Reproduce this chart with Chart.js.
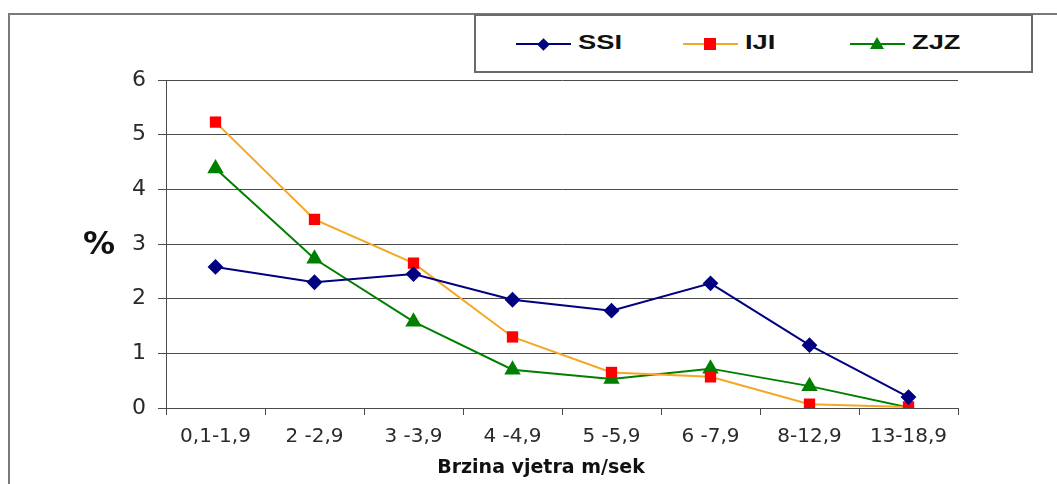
<!DOCTYPE html>
<html lang="en">
<head>
  <meta charset="UTF-8">
  <script src="https://cdn.jsdelivr.net/npm/chart.js"></script>
  <title>Brzina vjetra</title>
  <style>
    body { margin: 0; background: #fff; font-family: "Liberation Sans", Arial, sans-serif; }
    .okvir { position: absolute; left: 8px; top: 13px; width: 1100px; height: 500px;
      border-left: 2px solid #7a7a7a; border-top: 2px solid #7a7a7a; }
    #graf { position: absolute; left: 0; top: 0; }
    .legenda { position: absolute; left: 474px; top: 14px; width: 555px; height: 55px;
      border: 2px solid #6a6a6a; background: #fff; }
    .stavka { position: absolute; top: 0; height: 55px; }
    .stavka .linija { position: absolute; top: 27px; width: 55px; height: 2px; }
    .stavka .tekst { position: absolute; left: 62px; top: 14px; font: bold 21px "Liberation Sans", Arial, sans-serif;
      color: #111; transform: scaleX(1.3); transform-origin: left center; }
    .romb { position: absolute; left: 23px; top: 23.5px; width: 9px; height: 9px; background: #000080; transform: rotate(45deg); }
    .kvad { position: absolute; left: 21px; top: 22px; width: 12px; height: 12px; background: #ff0000; }
    .trok { position: absolute; left: 20px; top: 21px; width: 0; height: 0;
      border-left: 7px solid transparent; border-right: 7px solid transparent; border-bottom: 12px solid #008000; }
  </style>
</head>
<body>
  <div class="okvir"></div>
  <canvas id="graf" width="1057" height="484"></canvas>
  <div class="legenda">
    <div class="stavka" style="left:40px">
      <div class="linija" style="background:#000080"></div><div class="romb"></div><div class="tekst">SSI</div>
    </div>
    <div class="stavka" style="left:207px">
      <div class="linija" style="background:#f5a623"></div><div class="kvad"></div><div class="tekst">IJI</div>
    </div>
    <div class="stavka" style="left:374px">
      <div class="linija" style="background:#008000"></div><div class="trok"></div><div class="tekst">ZJZ</div>
    </div>
  </div>

<script>
const kategorije = ['0,1-1,9', '2 -2,9', '3 -3,9', '4 -4,9', '5 -5,9', '6 -7,9', '8-12,9', '13-18,9'];
const ssi = [2.58, 2.30, 2.45, 1.98, 1.78, 2.28, 1.15, 0.20];
const iji = [5.23, 3.45, 2.65, 1.30, 0.65, 0.57, 0.07, 0.02];
const zjz = [4.38, 2.73, 1.58, 0.70, 0.53, 0.72, 0.40, 0.01];
const yTicks = [0, 1, 2, 3, 4, 5, 6];

// "%" and the x title are drawn by hand so they sit where the original has them
const natpisi = {
  id: 'natpisi',
  afterDraw(chart) {
    const c = chart.ctx;
    const y = chart.scales.y;
    c.save();
    c.fillStyle = '#111';
    c.textAlign = 'center';
    c.textBaseline = 'middle';
    c.font = 'bold 32px "DejaVu Sans", sans-serif';
    c.fillText('%', chart.chartArea.left - 67, y.getPixelForValue(3) + 2);
    c.font = 'bold 19px "DejaVu Sans", sans-serif';
    c.fillText('Brzina vjetra m/sek', chart.chartArea.left + 375, 468);
    c.restore();
  }
};

const ctx = document.getElementById('graf');
new Chart(ctx, {
  type: 'line',
  data: {
    labels: kategorije,
    datasets: [
      { label: 'SSI', data: ssi, borderColor: '#000080', backgroundColor: '#000080',
        pointStyle: 'rectRot', pointRadius: 6.5, pointBorderColor: '#000080', borderWidth: 2 },
      { label: 'IJI', data: iji, borderColor: '#f5a623', backgroundColor: '#ff0000',
        pointStyle: 'rect', pointRadius: 8, pointBorderColor: '#ff0000', pointBorderWidth: 0, borderWidth: 2 },
      { label: 'ZJZ', data: zjz, borderColor: '#008000', backgroundColor: '#008000',
        pointStyle: 'triangle', pointRadius: 7.5, pointBorderColor: '#008000', borderWidth: 2 }
    ]
  },
  options: {
    responsive: false,
    animation: false,
    layout: { padding: { top: 80, right: 99, left: 0, bottom: 0 } },
    plugins: { legend: { display: false }, tooltip: { enabled: false } },
    scales: {
      x: {
        offset: true,
        grid: { offset: true, drawOnChartArea: false, drawTicks: true, tickLength: 7, color: '#4a4a4a' },
        border: { color: '#4a4a4a', width: 1 },
        ticks: { color: '#2a2a2a', padding: 10, maxRotation: 0, autoSkip: false,
          font: { family: '"DejaVu Sans", sans-serif', size: 20 } },
        afterFit(s) { s.height = 76; }
      },
      y: {
        min: 0, max: 6,
        afterBuildTicks(s) { s.ticks = yTicks.map(v => ({ value: v })); },
        grid: { color: '#4a4a4a', lineWidth: 1, tickLength: 8 },
        border: { color: '#4a4a4a', width: 1 },
        ticks: { color: '#2a2a2a', padding: 12,
          font: { family: '"DejaVu Sans", sans-serif', size: 22 } },
        afterFit(s) { s.width = 166; }
      }
    }
  },
  plugins: [natpisi]
});
</script>
</body>
</html>
